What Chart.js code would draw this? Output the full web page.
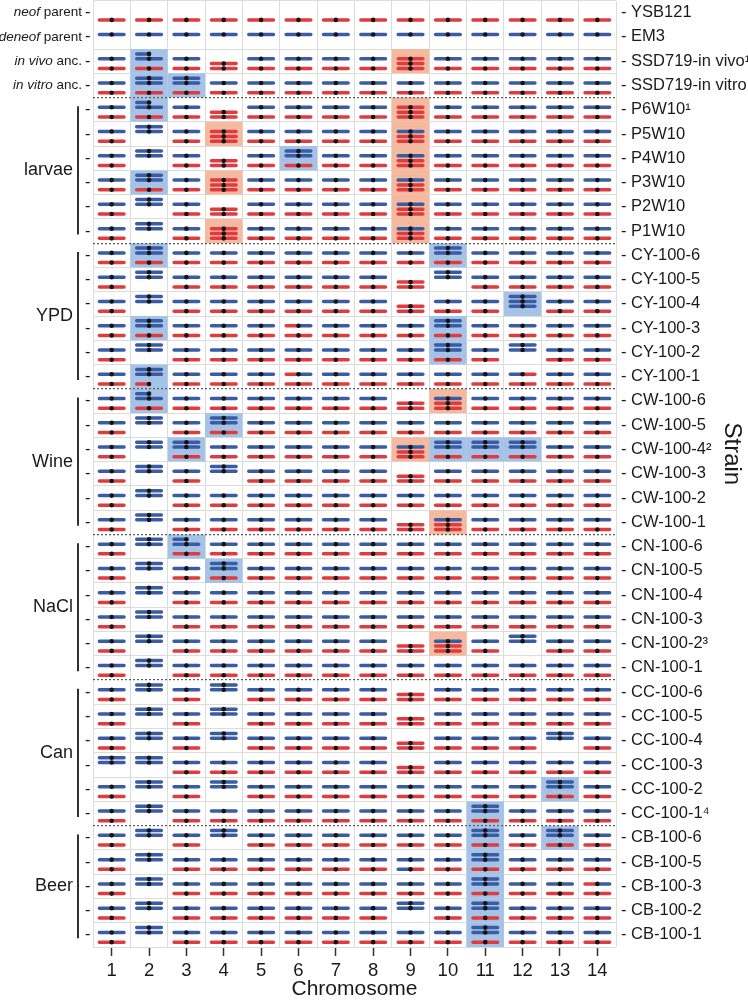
<!DOCTYPE html>
<html>
<head>
<meta charset="utf-8">
<script src="https://cdn.jsdelivr.net/npm/chart.js@4.4.1/dist/chart.umd.min.js"></script>
<style>
  html, body { margin: 0; background: #fff; }
  #contenedor { width: 748px; height: 1000px; }
</style>
</head>
<body>
<div id="contenedor"><canvas id="cariograma"></canvas></div>
<script>
// DATOS
const cromosomas = [1, 2, 3, 4, 5, 6, 7, 8, 9, 10, 11, 12, 13, 14];

const cepas = [
  "YSB121", "EM3", "SSD719-in vivo¹", "SSD719-in vitro",
  "P6W10¹", "P5W10", "P4W10", "P3W10", "P2W10", "P1W10",
  "CY-100-6", "CY-100-5", "CY-100-4", "CY-100-3", "CY-100-2", "CY-100-1",
  "CW-100-6", "CW-100-5", "CW-100-4²", "CW-100-3", "CW-100-2", "CW-100-1",
  "CN-100-6", "CN-100-5", "CN-100-4", "CN-100-3", "CN-100-2³", "CN-100-1",
  "CC-100-6", "CC-100-5", "CC-100-4", "CC-100-3", "CC-100-2", "CC-100-1⁴",
  "CB-100-6", "CB-100-5", "CB-100-3", "CB-100-2", "CB-100-1"
];

// etiquetas de la izquierda: [parte en cursiva, resto]
const etiquetasIzq = [["neof", " parent"], ["deneof", " parent"], ["in vivo", " anc."], ["in vitro", " anc."]];

const grupos = ["larvae", "YPD", "Wine", "NaCl", "Can", "Beer"];
const grupoInicio = [4, 10, 16, 22, 28, 34];
const grupoFin = [9, 15, 21, 27, 33, 38];

// cada celda: copias azules | copias rojas
// B/R completa, b/r solo brazo izquierdo, m = azul-rojo, n = rojo-azul
const cariotipos = [
  "|R |R |R |R |R |R |R |R |R |R |R |R |R |R",
  "B| B| B| B| B| B| B| B| B| B| B| B| B| B|",
  "B|R Bb|R B|R |RR B|R B|R B|R B|R |RRR B|R B|R B|R B|R B|R",
  "B|R BB|R BB|R B|R B|R B|R B|R B|R B|R B|R B|R B|R B|R B|R",
  "B|R Bb|R B|R |RR B|R B|R B|R B|R |RRR B|R B|R B|R B|R B|R",
  "B|R BB| B|R |RRR B|R B|R B|R B|R B|RR B|R B|R B|R B|R B|R",
  "B|R BB| B|R |RR B|R BB|R B|R B|R B|RR B|R B|R B|R B|R B|R",
  "B|R BB|R B|R |RRR B|R B|R B|R B|R B|RR B|R B|R B|R B|R B|R",
  "B|R BB| B|R |RR B|R B|R B|R B|R B|RR B|R B|R B|R B|R B|R",
  "B|R BB| B|R |RRR B|R B|R B|R B|R B|RR B|R B|R B|R B|R B|R",
  "B|R BB|R B|R B|R B|R B|R B|R B|R B|R BB|R B|R B|R B|R B|R",
  "B|R BB| B|R B|R B|R B|R B|R B|R |RR BB| B|R B|R B|R B|R",
  "B|R BB| B|R B|R B|R B|R B|R B|R |RR B|R B|R BBB| B|R B|R",
  "B|R BB|R B|R B|R B|R n|R B|R B|R B|R BB|R B|R B|R B|R B|R",
  "B|R BB| B|R B|R B|R B|R B|R B|R B|R BB|R B|R BB| B|R B|R",
  "B|R BB|r B|R B|R B|R n|R B|R B|R B|R B|R B|R m|R B|R B|R",
  "B|R Bb|R B|R B|R B|R B|R B|R B|R |RR B|RR B|R B|R B|R B|R",
  "B|R BB| B|R BB|R B|R B|R B|R B|R B|R B|R B|R B|R B|R B|R",
  "B|R BB| BB|R B|R B|R B|R B|R B|R B|RR BB|R BB|R BB|R B|R B|R",
  "B|R BB| B|R BB| B|R B|R B|R B|R |RR B|R B|R B|R B|R B|R",
  "B|R BB| B|R B|R B|R B|R B|R B|R B|R B|R B|R B|R B|R B|R",
  "B|R BB| B|R B|R B|R B|R B|R B|R |RR B|RR B|R B|R B|R B|R",
  "B|R BB| Bb|R B|R B|R B|R B|R B|R B|R B|R B|R B|R B|R B|R",
  "B|R BB| B|R BB|R B|R B|R B|R B|R B|R B|R B|R B|R B|R B|R",
  "B|R BB| B|R B|R B|R B|R B|R B|R B|R B|R B|R B|R B|R B|R",
  "B|R BB| B|R B|R B|R B|R B|R B|R B|R B|R B|R B|R B|R B|R",
  "B|R BB| B|R B|R B|R B|R B|R B|R |RR B|RR B|R BB| B|R B|R",
  "B|R BB| B|R B|R B|R B|R B|R B|R B|R B|R B|R B|R B|R B|R",
  "B|R BB| B|R BB| B|R B|R B|R B|R |RR B|R B|R B|R B|R B|R",
  "B|R BB| B|R BB| B|R B|R B|R B|R |RR B|R B|R B|R B|R B|R",
  "B|R BB| B|R BB| B|R B|R B|R B|R |RR B|R B|R B|R BB| B|R",
  "BB| BB| B|R B|R B|R B|R B|R B|R |RR B|R B|R B|R B|R B|R",
  "B|R BB| B|R BB| B|R B|R B|R B|R B|R B|R B|R B|R BB|R B|R",
  "B|R BB| B|R B|R B|R B|R B|R B|R B|R B|R BB|R B|R B|R B|R",
  "B|R BB| B|R BB| B|R B|R B|R B|R B|R B|R BB|R B|R BB|R B|R",
  "B|R BB| B|R B|R B|R B|R B|R B|R B|m B|R BB|R B|R B|R B|R",
  "B|R BB| B|R B|R B|R B|R B|R B|R B|R B|R BB|R B|R B|R n|R",
  "B|R BB| B|R B|R B|R B|R B|R B|R BB| B|R BB|R B|R B|R B|R",
  "B|R BB| B|R B|R B|R B|R B|R B|R B|R B|R BB|R B|R B|R B|R"
];

// ESTILOS
const FAMILIA = '"Liberation Sans", Arial, sans-serif';
const TEXTO = "#1a1a1a";
const AZUL = "#3a5ca5";
const ROJO = "#e03b3f";
const PUNTO = "#141414";
const FONDO_AZUL = "#a4c3e6";
const FONDO_SALMON = "#f5b9a0";

Chart.defaults.font.family = FAMILIA;
Chart.defaults.color = TEXTO;

// posicion vertical de cada copia dentro de la fila
const huecoAzul = [0.4, 0.2, 0.6];
const huecoRojo = [0.8, 0.6, 0.4];
const BRAZO = 0.33;

const lineasAzules = [];
const lineasRojas = [];
const centromeros = [];
const fondosAzules = [];
const fondosSalmon = [];

function tramo(lista, x0, x1, y) {
  lista.push({x: x0, y: y}, {x: x1, y: y}, {x: x1, y: null});
}

function copia(letra, x, y) {
  if (letra == "B") tramo(lineasAzules, x - BRAZO, x + BRAZO, y);
  if (letra == "R") tramo(lineasRojas, x - BRAZO, x + BRAZO, y);
  if (letra == "b") tramo(lineasAzules, x - BRAZO, x, y);
  if (letra == "r") tramo(lineasRojas, x - BRAZO, x, y);
  if (letra == "m") { tramo(lineasAzules, x - BRAZO, x, y); tramo(lineasRojas, x, x + BRAZO, y); }
  if (letra == "n") { tramo(lineasRojas, x - BRAZO, x, y); tramo(lineasAzules, x, x + BRAZO, y); }
  centromeros.push({x: x, y: y});
}

cariotipos.forEach((fila, r) => {
  fila.split(" ").forEach((celda, c) => {
    const x = cromosomas[c];
    const [azules, rojas] = celda.split("|");
    [...azules].forEach((l, i) => copia(l, x, r + huecoAzul[i]));
    [...rojas].forEach((l, i) => copia(l, x, r + huecoRojo[i]));
    // celdas con tres copias: fondo del color que gana
    if (azules.length + rojas.length >= 3) {
      const destino = azules.length > rojas.length ? fondosAzules : fondosSalmon;
      destino.push({x: x - 0.5, y: r}, {x: x + 0.5, y: r}, {x: x + 0.5, y: r + 1},
                   {x: x - 0.5, y: r + 1}, {x: x - 0.5, y: null});
    }
  });
});

// cada eje necesita sus propios objetos tick (Chart.js les escribe la etiqueta)
const centrosFilas = () => cepas.map((_, r) => ({value: r + 0.5}));
const bordesFilas = () => {
  const t = [];
  for (let r = 0; r <= cepas.length; r++) {
    if (r != 1 && !grupoInicio.includes(r)) t.push({value: r});
  }
  return t;
};
const separadores = () => grupoInicio.map(r => ({value: r}));
const bordesCols = () => [0, ...cromosomas].map(c => ({value: c + 0.5}));

// textos que Chart.js no sabe mezclar (cursiva), corchetes de grupo y titulo "Strain"
const rotulos = {
  id: "rotulos",
  afterDraw(chart) {
    const {ctx, chartArea, scales: {y}} = chart;
    ctx.save();
    ctx.fillStyle = TEXTO;
    ctx.textBaseline = "middle";
    ctx.textAlign = "left";
    const fin = chartArea.left - 11;
    etiquetasIzq.forEach(([cursiva, normal], r) => {
      const yy = y.getPixelForValue(r + 0.5);
      ctx.font = "13.5px " + FAMILIA;
      const wn = ctx.measureText(normal).width;
      ctx.font = "italic 13.5px " + FAMILIA;
      const wc = ctx.measureText(cursiva).width;
      ctx.fillText(cursiva, fin - wn - wc, yy);
      ctx.font = "13.5px " + FAMILIA;
      ctx.fillText(normal, fin - wn, yy);
    });

    ctx.font = "18px " + FAMILIA;
    ctx.textAlign = "right";
    ctx.strokeStyle = TEXTO;
    ctx.lineWidth = 1.8;
    grupos.forEach((g, i) => {
      const xb = chartArea.left - 15;
      ctx.beginPath();
      ctx.moveTo(xb, y.getPixelForValue(grupoInicio[i] + 0.36));
      ctx.lineTo(xb, y.getPixelForValue(grupoFin[i] + 0.64));
      ctx.stroke();
      const ym = (y.getPixelForValue(grupoInicio[i]) + y.getPixelForValue(grupoFin[i] + 1)) / 2;
      ctx.fillText(g, chartArea.left - 20, ym);
    });

    ctx.font = "24px " + FAMILIA;
    ctx.textAlign = "center";
    ctx.translate(chart.width - 16.5, chartArea.top + (chartArea.bottom - chartArea.top) * 0.479);
    ctx.rotate(Math.PI / 2);
    ctx.fillText("Strain", 0, 0);
    ctx.restore();
  }
};

const sinRelleno = s => { s.paddingTop = 0; s.paddingBottom = 0; };

new Chart(document.getElementById("cariograma"), {
  type: "scatter",
  data: {
    datasets: [
      {type: "scatter", data: centromeros, xAxisID: "x", yAxisID: "y",
       pointRadius: 2.3, pointBackgroundColor: PUNTO, pointBorderWidth: 0, order: 0},
      {type: "line", data: lineasAzules, xAxisID: "x", yAxisID: "y",
       borderColor: AZUL, borderWidth: 3.5, borderCapStyle: "round", pointRadius: 0, spanGaps: false, order: 1},
      {type: "line", data: lineasRojas, xAxisID: "x", yAxisID: "y",
       borderColor: ROJO, borderWidth: 3.5, borderCapStyle: "round", pointRadius: 0, spanGaps: false, order: 1},
      {type: "line", data: fondosAzules, xAxisID: "x", yAxisID: "y", fill: "shape",
       backgroundColor: FONDO_AZUL, borderColor: "transparent", borderWidth: 0, pointRadius: 0, spanGaps: false, order: 2},
      {type: "line", data: fondosSalmon, xAxisID: "x", yAxisID: "y", fill: "shape",
       backgroundColor: FONDO_SALMON, borderColor: "transparent", borderWidth: 0, pointRadius: 0, spanGaps: false, order: 2}
    ]
  },
  options: {
    responsive: true,
    maintainAspectRatio: false,
    animation: false,
    events: [],
    layout: {autoPadding: false, padding: {top: 0.5, left: 0, right: 0, bottom: 0}},
    plugins: {legend: {display: false}, tooltip: {enabled: false}},
    scales: {
      x: {
        type: "linear", position: "bottom", min: 0.5, max: 14.5,
        afterBuildTicks: s => { s.ticks = cromosomas.map(v => ({value: v})); },
        afterFit: s => { s.height = 53; },
        ticks: {autoSkip: false, font: {size: 18.5}, color: TEXTO, padding: 4},
        grid: {drawOnChartArea: false, drawTicks: true, tickLength: 9, tickWidth: 1.5, tickColor: "#333"},
        border: {display: false},
        title: {display: true, text: "Chromosome", font: {size: 21, lineHeight: 1}, color: TEXTO, padding: {top: 0, bottom: 0}}
      },
      xRejilla: {
        type: "linear", position: "top", min: 0.5, max: 14.5,
        afterBuildTicks: s => { s.ticks = bordesCols(); },
        afterFit: s => { s.height = 0; },
        ticks: {display: false},
        grid: {color: "#dcdcdc", lineWidth: 1, drawTicks: false},
        border: {display: false}
      },
      y: {
        type: "linear", position: "left", min: 0, max: cepas.length, reverse: true,
        afterBuildTicks: s => { s.ticks = centrosFilas(); },
        afterFit: s => { s.width = 93; sinRelleno(s); },
        ticks: {autoSkip: false, font: {size: 16.5}, color: TEXTO, padding: 2.5, callback: () => "-"},
        grid: {display: false, drawTicks: false},
        border: {display: false}
      },
      yDer: {
        type: "linear", position: "right", min: 0, max: cepas.length, reverse: true,
        afterBuildTicks: s => { s.ticks = centrosFilas(); },
        afterFit: s => { s.width = 132; sinRelleno(s); },
        ticks: {autoSkip: false, font: {size: 16.5}, color: TEXTO, padding: 5,
                callback: v => "- " + cepas[Math.floor(v)]},
        grid: {display: false, drawTicks: false},
        border: {display: false}
      },
      yRejilla: {
        type: "linear", position: "left", min: 0, max: cepas.length, reverse: true,
        afterBuildTicks: s => { s.ticks = bordesFilas(); },
        afterFit: s => { s.width = 0; sinRelleno(s); },
        ticks: {display: false},
        grid: {color: "#dcdcdc", lineWidth: 1, drawTicks: false},
        border: {display: false}
      },
      ySeparador: {
        type: "linear", position: "left", min: 0, max: cepas.length, reverse: true,
        afterBuildTicks: s => { s.ticks = separadores(); },
        afterFit: s => { s.width = 0; sinRelleno(s); },
        ticks: {display: false},
        grid: {color: "#5a5a5a", lineWidth: 1.2, drawTicks: false, z: 1},
        border: {display: false, dash: [2, 2]}
      }
    }
  },
  plugins: [rotulos]
});
</script>
</body>
</html>
